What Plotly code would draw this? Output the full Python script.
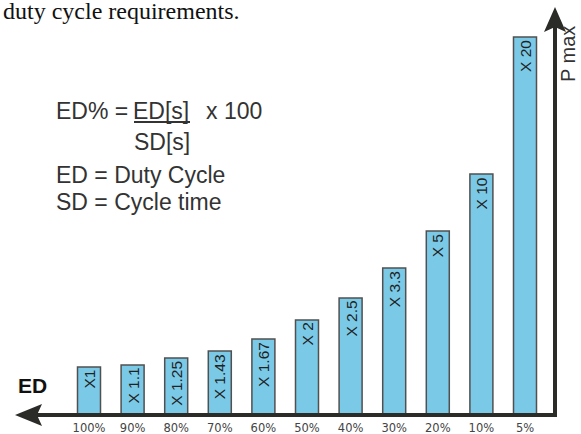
import plotly.graph_objects as go

# Data
duty_labels = ["100%", "90%", "80%", "70%", "60%", "50%", "40%", "30%", "20%", "10%", "5%"]
factor_labels = ["X1", "X 1.1", "X 1.25", "X 1.43", "X 1.67", "X 2", "X 2.5", "X 3.3", "X 5", "X 10", "X 20"]
bar_heights = [47, 49, 56, 63, 75, 94, 116, 146, 183, 240, 377]  # drawn height (relative units)

W, H = 581, 434
M_B = 20
PLOT_H = H - M_B
PX_PER_CAT = 43.6
FIRST_X = 89


def px(x):
    return x / W


def py(y):
    return (PLOT_H - y) / PLOT_H


positions = list(range(len(duty_labels)))

fig = go.Figure()
fig.add_trace(go.Bar(
    x=positions,
    y=bar_heights,
    width=23 / PX_PER_CAT,
    marker=dict(color="#7AC9E7", line=dict(color="#505050", width=1.5)),
    hoverinfo="skip",
))

axis_col = "#2b2b28"
shapes = [
    # horizontal ED axis
    dict(type="line", xref="paper", yref="paper", x0=px(30), x1=px(557), y0=py(415), y1=py(415),
         line=dict(color=axis_col, width=4)),
    # vertical P max axis
    dict(type="line", xref="paper", yref="paper", x0=px(555), x1=px(555), y0=py(417), y1=py(24),
         line=dict(color=axis_col, width=4)),
    # left arrowhead
    dict(type="path", xref="paper", yref="paper",
         path=f"M {px(15)},{py(415)} L {px(42)},{py(404)} L {px(37)},{py(415)} L {px(42)},{py(426)} Z",
         fillcolor=axis_col, line=dict(width=0)),
    # top arrowhead
    dict(type="path", xref="paper", yref="paper",
         path=f"M {px(555)},{py(7)} L {px(544)},{py(32)} L {px(555)},{py(27)} L {px(566)},{py(32)} Z",
         fillcolor=axis_col, line=dict(width=0)),
    # fraction bar under ED[s]
    dict(type="line", xref="paper", yref="paper", x0=px(134), x1=px(190), y0=py(122), y1=py(122),
         line=dict(color="#333333", width=2)),
]

txt_col = "#333333"
annotations = [
    dict(text="duty cycle requirements.", x=px(1), y=py(11), xanchor="left", yanchor="middle",
         font=dict(family="Liberation Serif", size=24, color="#111111")),
    dict(text="ED% =\u00a0", x=px(54), y=py(111), xanchor="left", yanchor="middle",
         font=dict(family="Liberation Sans", size=23, color=txt_col)),
    dict(text="ED[s]", x=px(131), y=py(111), xanchor="left", yanchor="middle",
         font=dict(family="Liberation Sans", size=23, color=txt_col)),
    dict(text="x 100", x=px(204), y=py(111), xanchor="left", yanchor="middle",
         font=dict(family="Liberation Sans", size=23, color=txt_col)),
    dict(text="SD[s]", x=px(162), y=py(142), xanchor="center", yanchor="middle",
         font=dict(family="Liberation Sans", size=23, color=txt_col)),
    dict(text="ED = Duty Cycle", x=px(54), y=py(175), xanchor="left", yanchor="middle",
         font=dict(family="Liberation Sans", size=23, color=txt_col)),
    dict(text="SD = Cycle time", x=px(54), y=py(202), xanchor="left", yanchor="middle",
         font=dict(family="Liberation Sans", size=23, color=txt_col)),
    dict(text="<b>ED</b>", x=px(32), y=py(385), xanchor="center", yanchor="middle",
         font=dict(family="Liberation Sans", size=21, color="#111111")),
    dict(text="P max", x=px(568), y=py(54), xanchor="center", yanchor="middle", textangle=-90,
         font=dict(family="Liberation Sans", size=20, color=txt_col)),
]
for a in annotations:
    a.update(xref="paper", yref="paper", showarrow=False)

# factor labels inside the top of each bar
for pos, h, lab in zip(positions, bar_heights, factor_labels):
    annotations.append(dict(
        text=lab, x=pos, y=h, xref="x", yref="y", showarrow=False,
        xanchor="center", yanchor="top", textangle=-90, yshift=-1,
        font=dict(family="Liberation Sans", size=15.5, color="#222222"),
    ))

fig.update_layout(
    width=W, height=H,
    margin=dict(l=0, r=0, t=0, b=M_B),
    paper_bgcolor="white", plot_bgcolor="white",
    showlegend=False,
    xaxis=dict(
        range=[-FIRST_X / PX_PER_CAT, (W - FIRST_X) / PX_PER_CAT],
        tickvals=positions, ticktext=duty_labels,
        tickfont=dict(family="DejaVu Sans", size=11.5, color="#444444"),
        ticks="outside", ticklen=3, tickcolor="rgba(0,0,0,0)",
        showline=False, showgrid=False, zeroline=False, fixedrange=True,
    ),
    yaxis=dict(range=[0, PLOT_H], visible=False, fixedrange=True),
    shapes=shapes,
    annotations=annotations,
)

fig.write_html(
    "out.html",
    config={"displayModeBar": False},
    post_script="document.body.style.margin='0';document.body.style.overflow='hidden';",
)
